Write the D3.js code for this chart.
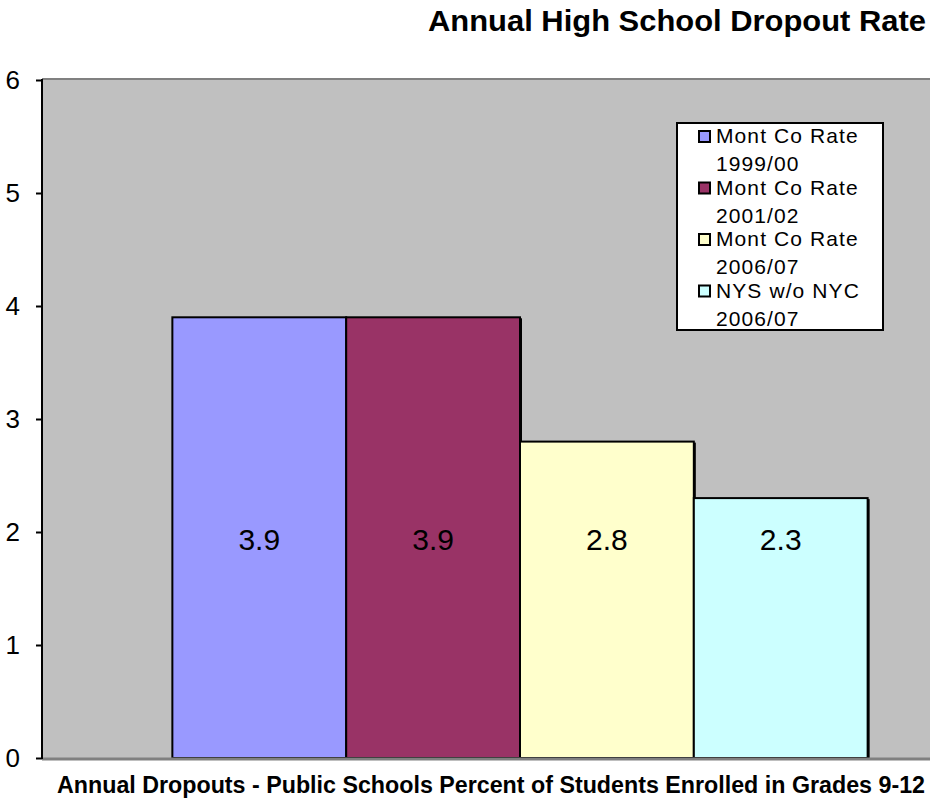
<!DOCTYPE html>
<html>
<head>
<meta charset="utf-8">
<script src="https://cdn.jsdelivr.net/npm/d3@7"></script>
<style>
  body { margin: 0; background: #fff; }
  svg { display: block; font-family: Arial, "Liberation Sans", sans-serif; }
</style>
</head>
<body>
<div id="chart"></div>
<script>
// Chart data
var seriesNames = ["Mont Co Rate 1999/00", "Mont Co Rate 2001/02", "Mont Co Rate 2006/07", "NYS w/o NYC 2006/07"];
var legendLines = [["Mont Co Rate", "1999/00"], ["Mont Co Rate", "2001/02"], ["Mont Co Rate", "2006/07"], ["NYS w/o NYC", "2006/07"]];
var values = [3.9, 3.9, 2.8, 2.3];
var barColors = ["#9999ff", "#993366", "#ffffcc", "#ccffff"];
var yTicks = [0, 1, 2, 3, 4, 5, 6];
var category = "Annual Dropouts - Public Schools Percent of Students Enrolled in Grades 9-12";
var title = "Annual High School Dropout Rate";

var width = 930, height = 801;

// plot area (right side runs past the window, like the original)
var plotLeft = 42, plotRight = 998, plotTop = 80, plotBottom = 758;

var svg = d3.select("#chart").append("svg")
  .attr("width", width)
  .attr("height", height);

var y = d3.scaleLinear().domain([0, 6]).range([plotBottom, plotTop]);

// one category, 150% gap width
var xCat = d3.scaleBand().domain([category]).range([plotLeft, plotRight])
  .paddingInner(0).paddingOuter(0.1875);
var xSer = d3.scaleBand().domain(seriesNames).range([0, xCat.bandwidth()]).padding(0);

// plot background
svg.append("rect")
  .attr("x", plotLeft).attr("y", plotTop)
  .attr("width", plotRight - plotLeft).attr("height", plotBottom - plotTop)
  .attr("fill", "#c0c0c0");

// top border
svg.append("line")
  .attr("x1", plotLeft).attr("x2", width)
  .attr("y1", plotTop - 1).attr("y2", plotTop - 1)
  .attr("stroke", "#808080").attr("stroke-width", 2);

// bars
var bars = svg.append("g");
bars.selectAll("rect.shadow")
  .data(values)
  .enter().append("rect")
  .attr("class", "shadow")
  .attr("x", function(d, i) { return xCat(category) + xSer(seriesNames[i]) + 2; })
  .attr("y", function(d) { return y(d) + 1; })
  .attr("width", xSer.bandwidth())
  .attr("height", function(d) { return y(0) - y(d); })
  .attr("fill", "#000");

bars.selectAll("rect.bar")
  .data(values)
  .enter().append("rect")
  .attr("class", "bar")
  .attr("x", function(d, i) { return xCat(category) + xSer(seriesNames[i]); })
  .attr("y", function(d) { return y(d); })
  .attr("width", xSer.bandwidth())
  .attr("height", function(d) { return y(0) - y(d); })
  .attr("fill", function(d, i) { return barColors[i]; })
  .attr("stroke", "#000")
  .attr("stroke-width", 2);

// value labels
bars.selectAll("text")
  .data(values)
  .enter().append("text")
  .attr("x", function(d, i) { return xCat(category) + xSer(seriesNames[i]) + xSer.bandwidth() / 2; })
  .attr("y", y(1.95) + 12)
  .attr("text-anchor", "middle")
  .style("font-size", "30px")
  .style("fill", "#000")
  .text(function(d) { return d.toFixed(1); });

// bottom border / baseline
svg.append("line")
  .attr("x1", plotLeft).attr("x2", width)
  .attr("y1", plotBottom + 1).attr("y2", plotBottom + 1)
  .attr("stroke", "#808080").attr("stroke-width", 3);

// y axis
var yAxis = d3.axisLeft(y).tickValues(yTicks).tickFormat(d3.format("d")).tickSize(6).tickPadding(16);
var gy = svg.append("g")
  .attr("transform", "translate(" + plotLeft + ",0)")
  .call(yAxis);
gy.select(".domain").attr("stroke", "#000").attr("stroke-width", 2)
  .attr("d", "M0," + (plotTop - 1) + "V" + (plotBottom + 1));
gy.selectAll(".tick line").attr("stroke", "#000").attr("stroke-width", 2);
gy.selectAll(".tick text")
  .style("font-size", "26px")
  .style("font-family", "Arial, 'Liberation Sans', sans-serif")
  .attr("fill", "#000");

// title
svg.append("text")
  .attr("x", 428).attr("y", 31)
  .attr("textLength", 498)
  .attr("lengthAdjust", "spacingAndGlyphs")
  .style("font-size", "30px")
  .style("font-weight", "bold")
  .text(title);

// category axis title
svg.append("text")
  .attr("x", 57).attr("y", 793)
  .attr("textLength", 868)
  .attr("lengthAdjust", "spacingAndGlyphs")
  .style("font-size", "23px")
  .style("font-weight", "bold")
  .text(category);

// legend
var legend = svg.append("g").attr("transform", "translate(677,123)");
legend.append("rect")
  .attr("x", 0).attr("y", 0)
  .attr("width", 206).attr("height", 207)
  .attr("fill", "#fff")
  .attr("stroke", "#000")
  .attr("stroke-width", 2);

var item = legend.selectAll("g.item")
  .data(seriesNames)
  .enter().append("g")
  .attr("class", "item")
  .attr("transform", function(d, i) { return "translate(0," + (i * 51.5) + ")"; });

item.append("rect")
  .attr("x", 22).attr("y", 8)
  .attr("width", 11).attr("height", 11)
  .attr("fill", function(d, i) { return barColors[i]; })
  .attr("stroke", "#000")
  .attr("stroke-width", 2);

item.append("text")
  .attr("x", 39).attr("y", 20)
  .style("font-size", "21px")
  .style("letter-spacing", "1.1px")
  .text(function(d, i) { return legendLines[i][0]; });

item.append("text")
  .attr("x", 39).attr("y", 48)
  .style("font-size", "21px")
  .style("letter-spacing", "1.1px")
  .text(function(d, i) { return legendLines[i][1]; });
</script>
</body>
</html>
